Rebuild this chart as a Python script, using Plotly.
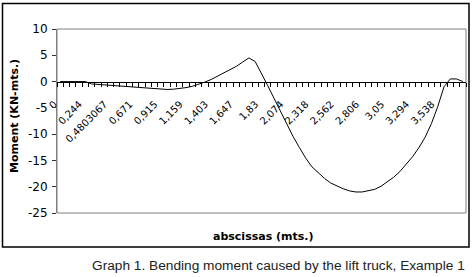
import plotly.graph_objects as go

# ---- data ----
moment = [
    0.0, 0.0, 0.0, 0.0, 0.0, -0.45, -0.55, -0.62, -0.7, -0.8,
    -0.9, -1.0, -1.1, -1.2, -1.3, -1.4, -1.45, -1.5, -1.45, -1.35,
    -1.15, -0.9, -0.55, -0.1, 0.4, 1.0, 1.6, 2.2, 2.9, 3.7,
    4.5, 3.8, 1.6, -0.8, -3.2, -5.6, -8.2, -10.4, -12.5, -14.5,
    -16.2, -17.4, -18.4, -19.3, -19.9, -20.4, -20.8, -21.0, -21.0, -20.8,
    -20.5, -19.9, -19.1, -18.2, -17.1, -15.8, -14.3, -12.6, -10.6, -8.0,
    -4.8, -1.0, 0.5, 0.5, 0.0,
]
category_index = list(range(len(moment)))
label_positions = list(range(0, 61, 4))
tick_labels = ["0", "0,244", "0,4803067", "0,671", "0,915", "1,159", "1,403",
               "1,647", "1,83", "2,074", "2,318", "2,562", "2,806", "3,05",
               "3,294", "3,538"]
y_ticks = [-25, -20, -15, -10, -5, 0, 5, 10]
y_tick_text = ["-25", "-20", "-15", "-10", "-5", "0", "5", "10"]

W, H = 476, 277
L, R, T, B = 57, 10, 29, 64
PW, PH = W - L - R, H - T - B
ymin, ymax = -25, 10


def px(x):
    return (x - L) / PW


def py(y):
    return (H - B - y) / PH


fig = go.Figure()
fig.add_trace(go.Scatter(
    x=category_index, y=moment, mode="lines",
    line=dict(color="black", width=1), hoverinfo="skip", showlegend=False,
))

fig.update_layout(
    width=W, height=H,
    margin=dict(l=L, r=R, t=T, b=B, pad=0),
    paper_bgcolor="white", plot_bgcolor="white",
    font=dict(family="DejaVu Sans", size=11, color="black"),
    xaxis=dict(
        range=[-0.5, len(moment) - 0.5],
        anchor="free", position=(0 - ymin) / (ymax - ymin),
        tickmode="array", tickvals=label_positions, ticktext=tick_labels,
        tickangle=-45, ticks="", showgrid=False, zeroline=False,
        showline=True, linecolor="black", linewidth=1,
        ticklabelstandoff=12, ticklabelshift=-6,
        tickfont=dict(family="DejaVu Sans", size=10, color="black"),
        minor=dict(ticks="outside", ticklen=4, tickcolor="black",
                   tickmode="linear", tick0=-0.5, dtick=1, showgrid=False),
    ),
    yaxis=dict(
        range=[ymin, ymax], tickmode="array", tickvals=y_ticks,
        ticktext=y_tick_text, ticks="outside", ticklen=4, tickcolor="#333",
        showgrid=False, zeroline=False, showline=True, linecolor="#808080",
        linewidth=1, ticklabelstandoff=2,
        tickfont=dict(family="DejaVu Sans", size=12, color="black"),
    ),
)

# plot-area border
fig.add_shape(type="rect", xref="paper", yref="paper", x0=0, x1=1, y0=0, y1=1,
              line=dict(color="#808080", width=1), layer="below")
# outer chart frame
fig.add_shape(type="rect", xref="paper", yref="paper",
              x0=px(2.5), x1=px(469), y0=py(247), y1=py(3.5),
              line=dict(color="black", width=1.5))

fig.add_annotation(text="<b>Moment (KN-mts.)</b>", xref="paper", yref="paper",
                   x=px(14), y=py(116), textangle=-90, showarrow=False,
                   xanchor="center", yanchor="middle",
                   font=dict(family="DejaVu Sans", size=11, color="black"))
fig.add_annotation(text="<b>abscissas (mts.)</b>", xref="paper", yref="paper",
                   x=px(263), y=py(236), showarrow=False,
                   xanchor="center", yanchor="middle",
                   font=dict(family="DejaVu Sans", size=11, color="black"))
fig.add_annotation(text="Graph 1. Bending moment caused by the lift truck, Example 1",
                   xref="paper", yref="paper", x=px(278), y=py(265),
                   showarrow=False, xanchor="center", yanchor="middle",
                   font=dict(family="Liberation Sans", size=13.7, color="#222"))

fig.write_html("out.html", config={"displayModeBar": False},
               post_script="document.body.style.margin='0';"
                           "document.body.style.overflow='hidden';")
